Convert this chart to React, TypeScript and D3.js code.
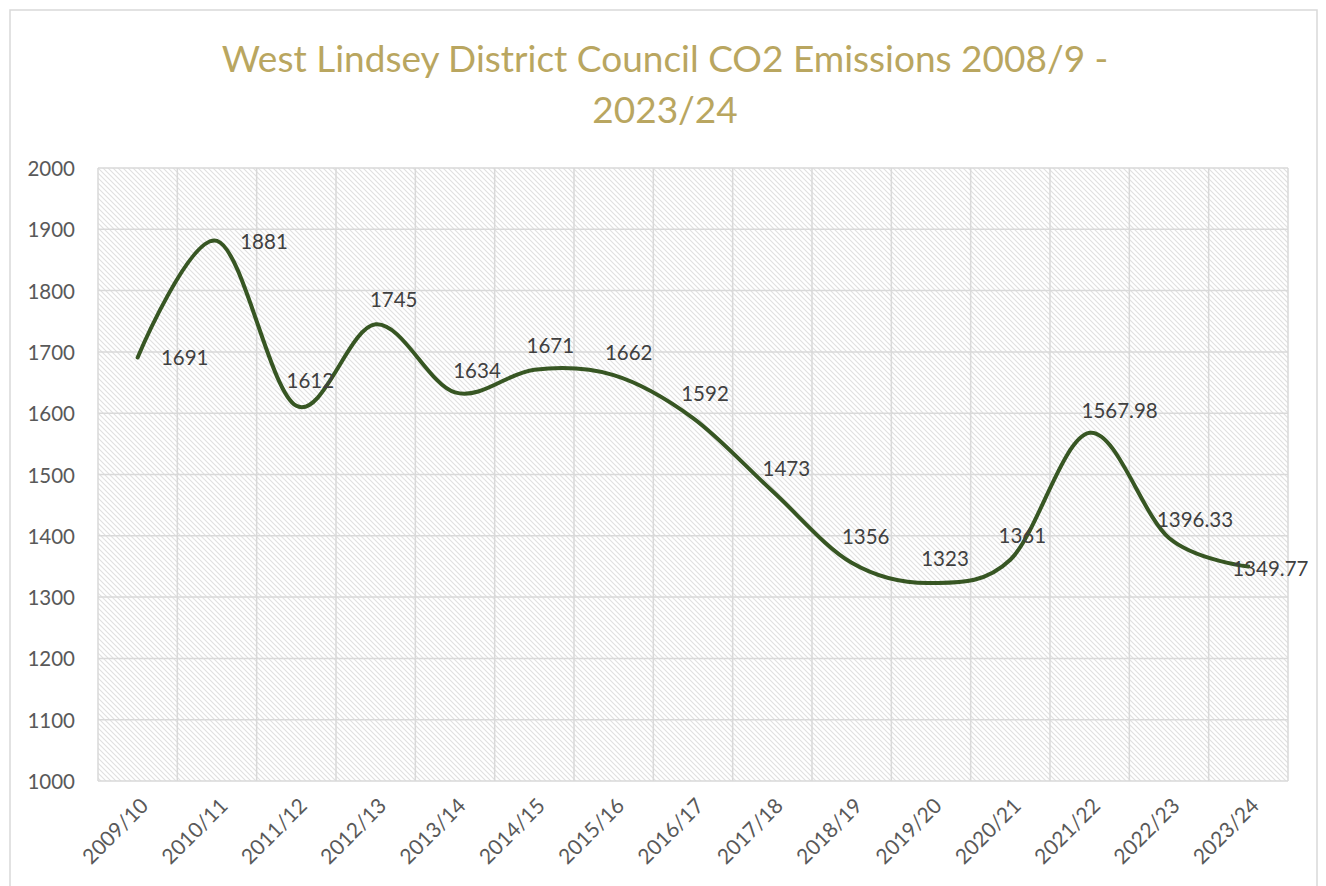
import React from "react";
import * as d3 from "d3";

const categories = ["2009/10","2010/11","2011/12","2012/13","2013/14","2014/15","2015/16","2016/17","2017/18","2018/19","2019/20","2020/21","2021/22","2022/23","2023/24"];
const emissions = [1691,1881,1612,1745,1634,1671,1662,1592,1473,1356,1323,1361,1567.98,1396.33,1349.77];
const valueLabels = ["1691","1881","1612","1745","1634","1671","1662","1592","1473","1356","1323","1361","1567.98","1396.33","1349.77"];
const yTicks = [1000,1100,1200,1300,1400,1500,1600,1700,1800,1900,2000];
const titleLines = ["West Lindsey District Council CO2 Emissions 2008/9 -", "2023/24"];

// label placement offsets (layout, in px, label centre relative to point)
const labelDx = [47,47,14,18,22,16,15,12,14,14,14,12,30,26,22];
const labelDy = [0,0,-26,-25,-22,-25,-23,-25,-23,-27,-25,-25,-23,-19,1];

const W = 1326, H = 886;
const plot = { left: 98, right: 1288, top: 168, bottom: 781 };
const FONT = "Lato, 'Open Sans', sans-serif";

export default function App() {
  const x = d3.scaleBand<string>().domain(categories).range([plot.left, plot.right]).padding(0);
  const y = d3.scaleLinear().domain([1000, 2000]).range([plot.bottom, plot.top]);
  const cx = (i: number) => (x(categories[i]) as number) + x.bandwidth() / 2;

  const line = d3.line<number>()
    .x((_, i) => cx(i))
    .y((d) => y(d))
    .curve(d3.curveCardinal.tension(0));

  const boundaries = d3.range(categories.length + 1).map((i) => plot.left + i * x.bandwidth());

  return (
    <svg width={W} height={H} style={{ position: "absolute", left: 0, top: 0, background: "#fff" }}>
      <defs>
        <pattern id="hatch" patternUnits="userSpaceOnUse" width={5} height={5}>
          <rect width={5} height={5} fill="#fff" />
          <path d="M-1,-1 L6,6 M-1,4 L1,6 M4,-1 L6,1" stroke="#e0e0e0" strokeWidth={1.1} />
        </pattern>
      </defs>
      <rect x={10} y={10} width={1307} height={H} fill="#fff" stroke="#d9d9d9" strokeWidth={1.5} />
      {titleLines.map((t, i) => (
        <text key={i} x={665} y={72 + i * 51} textAnchor="middle" fill="#b9a660" fontFamily={FONT} fontSize={37}>{t}</text>
      ))}
      <rect x={plot.left} y={plot.top} width={plot.right - plot.left} height={plot.bottom - plot.top} fill="url(#hatch)" />
      {yTicks.map((t) => (
        <line key={"h" + t} x1={plot.left} x2={plot.right} y1={y(t)} y2={y(t)} stroke="#d9d9d9" strokeWidth={1.5} />
      ))}
      {boundaries.map((b, i) => (
        <line key={"v" + i} x1={b} x2={b} y1={plot.top} y2={plot.bottom} stroke="#d9d9d9" strokeWidth={1.5} />
      ))}
      {yTicks.map((t) => (
        <text key={"yt" + t} x={75} y={y(t)} textAnchor="end" dominantBaseline="central" fill="#595959" fontFamily={FONT} fontSize={20.5}>{t}</text>
      ))}
      {categories.map((c, i) => (
        <text key={"xt" + c} transform={`translate(${cx(i) + 6},${plot.bottom + 20}) rotate(-45)`} textAnchor="end" dominantBaseline="central" fill="#595959" fontFamily={FONT} fontSize={21}>{c}</text>
      ))}
      <path d={line(emissions) || ""} fill="none" stroke="#375623" strokeWidth={4} strokeLinecap="round" />
      {emissions.map((v, i) => (
        <text key={"dl" + i} x={cx(i) + labelDx[i]} y={y(v) + labelDy[i]} textAnchor="middle" dominantBaseline="central" fill="#404040" fontFamily={FONT} fontSize={20.5}>{valueLabels[i]}</text>
      ))}
    </svg>
  );
}
